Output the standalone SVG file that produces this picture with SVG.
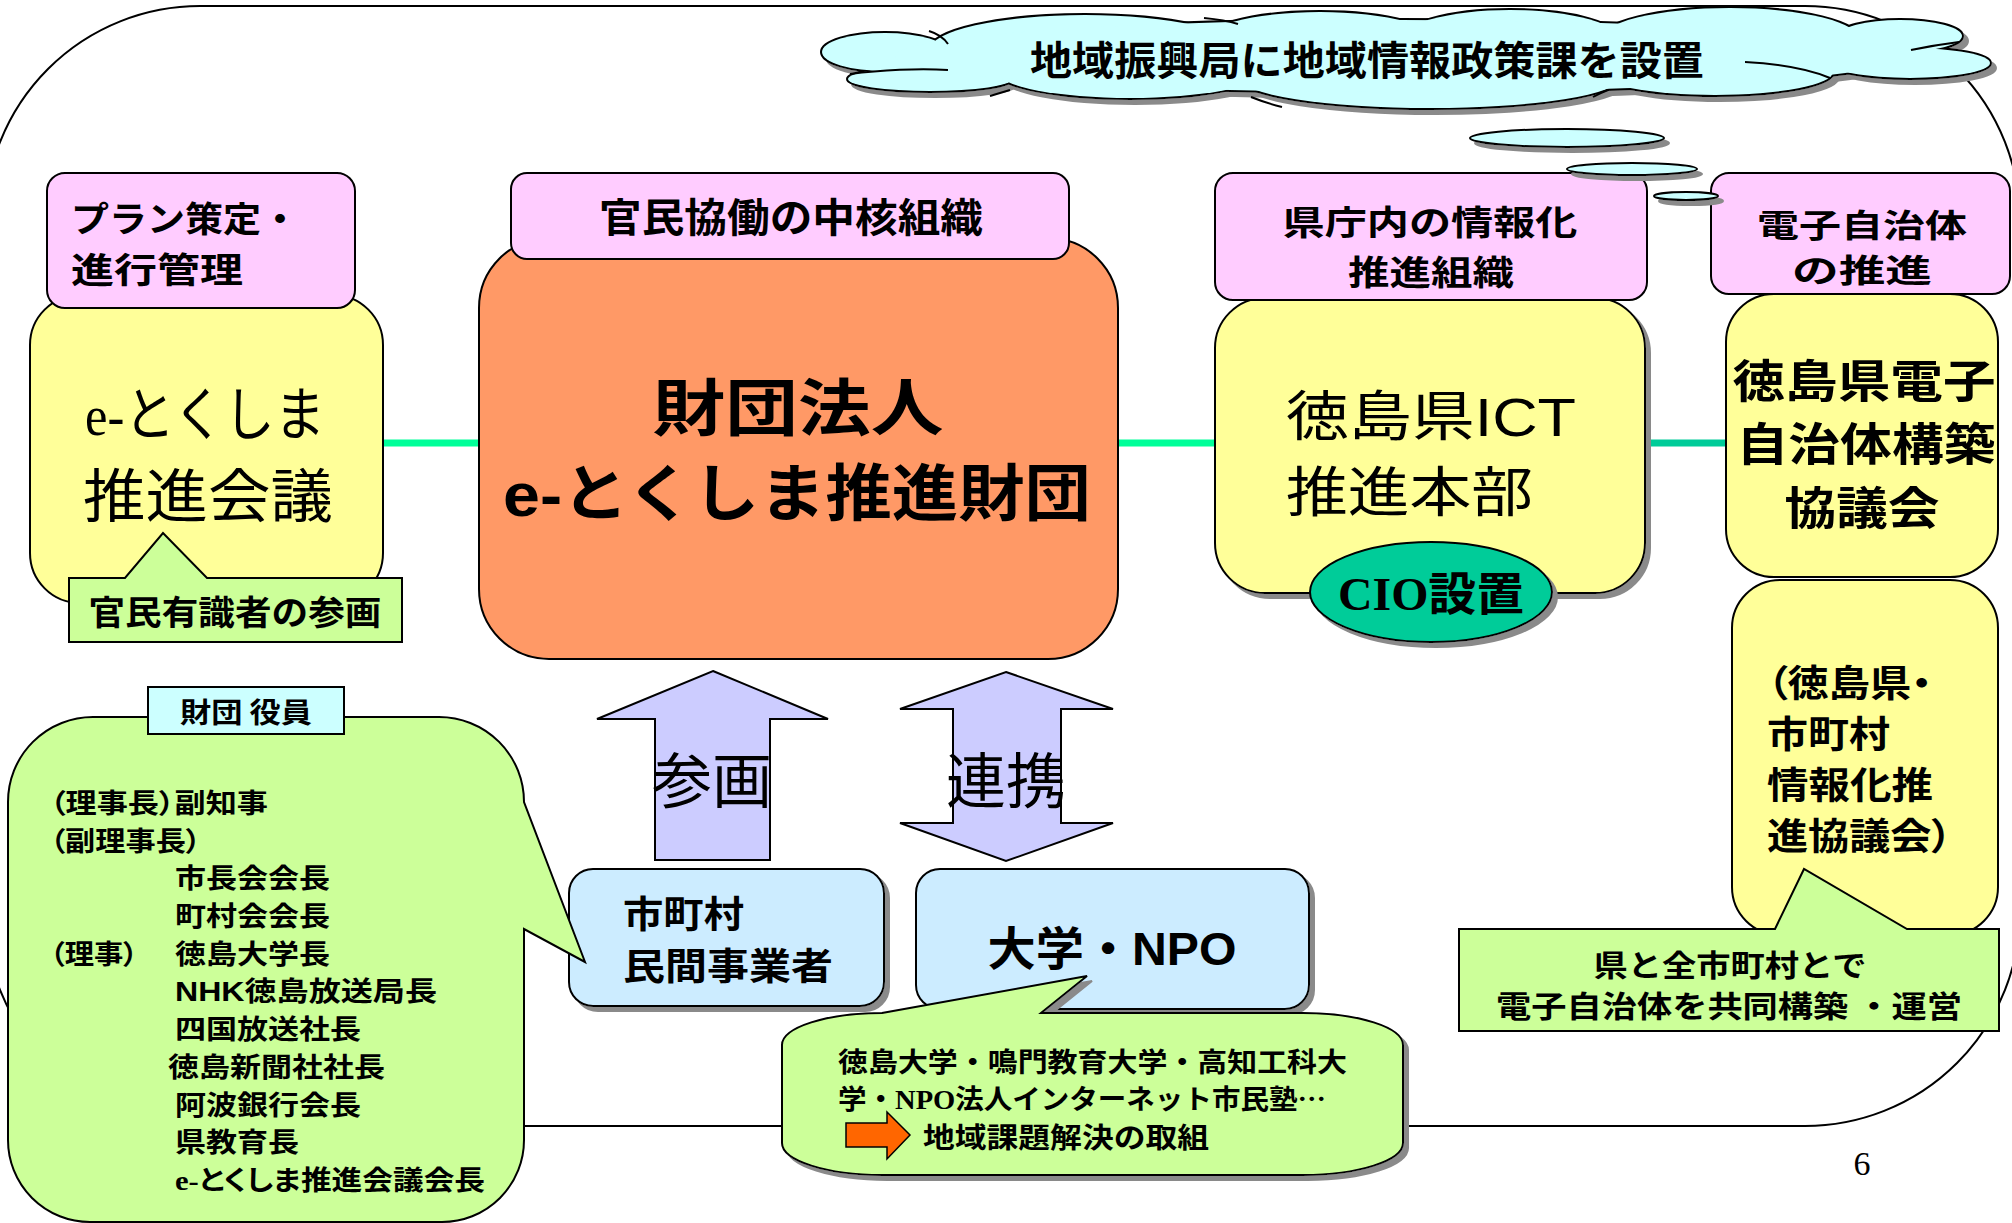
<svg xmlns="http://www.w3.org/2000/svg" xmlns:xlink="http://www.w3.org/1999/xlink" width="2012" height="1223" viewBox="0 0 2012 1223">
<style>
.t{font-family:"Noto Sans CJK JP",sans-serif;fill:#000}
.b{font-weight:bold}
.ls{font-family:"Liberation Sans","Noto Sans CJK JP",sans-serif}
.sf{font-family:"Liberation Serif","Noto Sans CJK JP",serif}
.palt{font-feature-settings:"palt" 1}
.m{text-anchor:middle}
.s{stroke:#000;stroke-width:2}
.pink{fill:#FFCCFF}
.yel{fill:#FFFF99}
.grn{fill:#CCFF99}
.blu{fill:#CCECFF}
.cyan{fill:#CCFFFF}
.lav{fill:#CCCCFF}
</style>
<defs>
<filter id="sh" x="-5%" y="-50%" width="120%" height="250%">
<feOffset in="SourceAlpha" dx="5" dy="5" result="o"/>
<feFlood flood-color="#8a8a8a" result="f"/>
<feComposite in="f" in2="o" operator="in" result="s"/>
<feMerge><feMergeNode in="s"/><feMergeNode in="SourceGraphic"/></feMerge>
</filter>
<g id="cloudShape">
<ellipse cx="885" cy="52" rx="63" ry="19"/>
<ellipse cx="930" cy="79" rx="82" ry="12"/>
<ellipse cx="1085" cy="50" rx="155" ry="35"/>
<ellipse cx="1320" cy="45" rx="122" ry="33"/>
<ellipse cx="1510" cy="42" rx="112" ry="32"/>
<ellipse cx="1730" cy="40" rx="130" ry="32"/>
<ellipse cx="1900" cy="36" rx="62" ry="16"/>
<ellipse cx="1910" cy="63" rx="80" ry="15"/>
<ellipse cx="1715" cy="72" rx="118" ry="23"/>
<ellipse cx="1430" cy="78" rx="190" ry="30"/>
<ellipse cx="1130" cy="72" rx="132" ry="26"/>
<ellipse cx="1400" cy="56" rx="505" ry="36"/>
</g>
</defs>
<rect width="2012" height="1223" fill="#fff"/>

<g id="frame">
<rect x="-15" y="6" width="2035" height="1120" rx="215" ry="215" fill="none" class="s"/>
</g>

<g id="connectors">
<line x1="383" y1="443" x2="479" y2="443" stroke="#00FF99" stroke-width="7"/>
<line x1="1118" y1="443" x2="1215" y2="443" stroke="#00FF99" stroke-width="7"/>
<line x1="1645" y1="443" x2="1726" y2="443" stroke="#00CC99" stroke-width="7"/>
<polygon class="lav s" points="713,671 828,719 770,719 770,860 655,860 655,719 597,719"/>
<polygon class="lav s" points="1006,672 1113,709 1061,709 1061,823 1113,823 1006,861 900,823 953,823 953,709 900,709"/>
<text class="t m" x="712" y="803" font-size="60">参画</text>
<text class="t m" x="1006" y="803" font-size="60">連携</text>
</g>

<g id="node-suishinkaigi">
<rect class="yel s" x="30" y="295" width="353" height="308" rx="50"/>
<rect class="pink s" x="47" y="173" width="308" height="135" rx="18"/>
<text class="t b" x="71" y="232" font-size="35" textLength="228" lengthAdjust="spacingAndGlyphs">プラン策定・</text>
<text class="t b" x="71" y="283" font-size="35" textLength="172" lengthAdjust="spacingAndGlyphs">進行管理</text>
<text class="t sf m" x="205" y="435" font-size="58" textLength="240" lengthAdjust="spacingAndGlyphs">e-とくしま</text>
<text class="t m" x="208" y="517" font-size="58" textLength="250" lengthAdjust="spacingAndGlyphs">推進会議</text>
<path class="grn s" d="M69,578 L125,578 L163,533 L207,578 L402,578 L402,642 L69,642 Z"/>
<text class="t b m" x="235" y="625" font-size="34" textLength="293" lengthAdjust="spacingAndGlyphs">官民有識者の参画</text>
</g>

<g id="node-zaidan">
<rect x="479" y="238" width="639" height="421" rx="70" fill="#FF9966" class="s"/>
<rect class="pink s" x="511" y="173" width="558" height="86" rx="16"/>
<text class="t b m" x="791" y="232" font-size="40" textLength="384" lengthAdjust="spacingAndGlyphs">官民協働の中核組織</text>
<text class="t b m" x="798" y="431" font-size="62" textLength="291" lengthAdjust="spacingAndGlyphs">財団法人</text>
<text class="t ls b m" x="797" y="516" font-size="62" textLength="588" lengthAdjust="spacingAndGlyphs">e-とくしま推進財団</text>
</g>

<g id="node-ict">
<rect class="yel s" x="1215" y="298" width="430" height="295" rx="50" filter="url(#sh)"/>
<rect class="pink s" x="1215" y="173" width="432" height="127" rx="18"/>
<text class="t b m" x="1430" y="235" font-size="34" textLength="295" lengthAdjust="spacingAndGlyphs">県庁内の情報化</text>
<text class="t b m" x="1431" y="285" font-size="34" textLength="166" lengthAdjust="spacingAndGlyphs">推進組織</text>
<text class="t ls" x="1286" y="436" font-size="54" textLength="290" lengthAdjust="spacingAndGlyphs">徳島県ICT</text>
<text class="t" x="1286" y="512" font-size="54" textLength="247" lengthAdjust="spacingAndGlyphs">推進本部</text>
<ellipse cx="1431" cy="592" rx="121" ry="50" fill="#00CC99" class="s" filter="url(#sh)"/>
<text class="t sf b m" x="1431" y="610" font-size="46" textLength="186" lengthAdjust="spacingAndGlyphs">CIO設置</text>
</g>

<g id="node-denshi">
<rect class="yel s" x="1732" y="580" width="266" height="355" rx="48"/>
<rect class="yel s" x="1726" y="294" width="272" height="283" rx="48"/>
<rect class="pink s" x="1711" y="173" width="299" height="121" rx="18"/>
<text class="t b m" x="1862" y="237" font-size="32" textLength="210" lengthAdjust="spacingAndGlyphs">電子自治体</text>
<text class="t b m" x="1862" y="282" font-size="32" textLength="140" lengthAdjust="spacingAndGlyphs">の推進</text>
<text class="t b m" x="1864" y="398" font-size="45" textLength="263" lengthAdjust="spacingAndGlyphs">徳島県電子</text>
<text class="t b m" x="1866" y="461" font-size="45" textLength="259" lengthAdjust="spacingAndGlyphs">自治体構築</text>
<text class="t b m" x="1862" y="525" font-size="45" textLength="155" lengthAdjust="spacingAndGlyphs">協議会</text>
<text class="t b palt" x="1767" y="697" font-size="37" textLength="165" lengthAdjust="spacingAndGlyphs">（徳島県・</text>
<text class="t b palt" x="1767" y="748" font-size="37" textLength="123" lengthAdjust="spacingAndGlyphs">市町村</text>
<text class="t b palt" x="1767" y="799" font-size="37" textLength="166" lengthAdjust="spacingAndGlyphs">情報化推</text>
<text class="t b palt" x="1767" y="850" font-size="37" textLength="185" lengthAdjust="spacingAndGlyphs">進協議会）</text>
<path class="grn s" d="M1459,929 L1775,929 L1804,869 L1907,929 L1999,929 L1999,1031 L1459,1031 Z"/>
<text class="t b m" x="1730" y="976" font-size="30" textLength="273" lengthAdjust="spacingAndGlyphs">県と全市町村とで</text>
<text class="t b m" x="1729" y="1017" font-size="30" textLength="466" lengthAdjust="spacingAndGlyphs">電子自治体を共同構築 ・運営</text>
</g>

<g id="node-shichoson">
<rect class="blu s" x="569" y="869" width="315" height="137" rx="24" filter="url(#sh)"/>
<text class="t b" x="623" y="928" font-size="37" textLength="121" lengthAdjust="spacingAndGlyphs">市町村</text>
<text class="t b" x="623" y="980" font-size="37" textLength="210" lengthAdjust="spacingAndGlyphs">民間事業者</text>
</g>

<g id="node-daigaku">
<rect class="blu s" x="916" y="869" width="393" height="140" rx="24" filter="url(#sh)"/>
<text class="t ls b m" x="1112" y="965" font-size="46" textLength="249" lengthAdjust="spacingAndGlyphs">大学・NPO</text>
<path class="grn s" filter="url(#sh)" d="M882,1013 L1087,976 L1041,1013 H1303 A100,32 0 0 1 1403,1045 V1143 A100,32 0 0 1 1303,1175 H882 A100,32 0 0 1 782,1143 V1045 A100,32 0 0 1 882,1013 Z"/>
<text class="t b" x="838" y="1072" font-size="27" textLength="509" lengthAdjust="spacingAndGlyphs">徳島大学・鳴門教育大学・高知工科大</text>
<text class="t b" x="838" y="1109" font-size="27" textLength="488" lengthAdjust="spacingAndGlyphs">学・<tspan class="sf">NPO</tspan>法人インターネット市民塾…</text>
<polygon points="846,1123 887,1123 887,1112 910,1135 887,1159 887,1147 846,1147" fill="#FF6600" stroke="#000" stroke-width="1.5"/>
<text class="t b" x="923" y="1148" font-size="28" textLength="286" lengthAdjust="spacingAndGlyphs">地域課題解決の取組</text>
</g>

<g id="node-yakuin">
<path class="grn s" d="M93,717 H439 A85,85 0 0 1 524,802 L585,962 L524,929 V1140 A82,82 0 0 1 442,1222 H90 A82,82 0 0 1 8,1140 V802 A85,85 0 0 1 93,717 Z"/>
<rect class="cyan s" x="148" y="687" width="196" height="47"/>
<text class="t b m" x="246" y="723" font-size="28" textLength="132" lengthAdjust="spacingAndGlyphs">財団 役員</text>
<g class="t b palt" font-size="27" lengthAdjust="spacingAndGlyphs">
<text x="50" y="813" textLength="218" lengthAdjust="spacingAndGlyphs">（理事長）副知事</text>
<text x="50" y="851" textLength="151" lengthAdjust="spacingAndGlyphs">（副理事長）</text>
<text x="175" y="888" textLength="155" lengthAdjust="spacingAndGlyphs">市長会会長</text>
<text x="175" y="926" textLength="155" lengthAdjust="spacingAndGlyphs">町村会会長</text>
<text x="50" y="964" textLength="88" lengthAdjust="spacingAndGlyphs">（理事）</text>
<text x="175" y="964" textLength="155" lengthAdjust="spacingAndGlyphs">徳島大学長</text>
<text x="175" y="1001" class="ls" textLength="262" lengthAdjust="spacingAndGlyphs">NHK徳島放送局長</text>
<text x="175" y="1039" textLength="186" lengthAdjust="spacingAndGlyphs">四国放送社長</text>
<text x="168" y="1077" textLength="217" lengthAdjust="spacingAndGlyphs">徳島新聞社社長</text>
<text x="175" y="1115" textLength="186" lengthAdjust="spacingAndGlyphs">阿波銀行会長</text>
<text x="175" y="1152" textLength="124" lengthAdjust="spacingAndGlyphs">県教育長</text>
<text x="175" y="1190" class="sf" textLength="310" lengthAdjust="spacingAndGlyphs">e-とくしま推進会議会長</text>
</g>
</g>

<g id="node-cloud">
<g filter="url(#sh)">
<use xlink:href="#cloudShape" fill="#CCFFFF" stroke="#000" stroke-width="4"/>
<use xlink:href="#cloudShape" fill="#CCFFFF" stroke="none"/>
</g>
<g fill="none" stroke="#000" stroke-width="2">
<path d="M850,74 C880,70 920,68 948,70"/>
<path d="M929,31 Q942,35 948,44"/>
<path d="M1204,18 Q1225,20 1238,24"/>
<path d="M1911,50 Q1935,45 1959,42"/>
<path d="M1745,62 Q1800,65 1830,78"/>
<path d="M1593,97 Q1600,93 1608,90"/>
<path d="M1251,97 Q1266,103 1282,107"/>
<path d="M1010,90 Q1000,93 990,96"/>
</g>
<text class="t b m" x="1367" y="75" font-size="40" textLength="674" lengthAdjust="spacingAndGlyphs">地域振興局に地域情報政策課を設置</text>
<ellipse class="cyan s" cx="1567" cy="138" rx="97" ry="9" filter="url(#sh)"/>
<ellipse class="cyan s" cx="1632" cy="169" rx="65" ry="6" filter="url(#sh)"/>
<ellipse class="cyan s" cx="1686" cy="196" rx="32" ry="4" filter="url(#sh)"/>
</g>

<text class="sf m" x="1862" y="1175" font-size="34">6</text>
</svg>
